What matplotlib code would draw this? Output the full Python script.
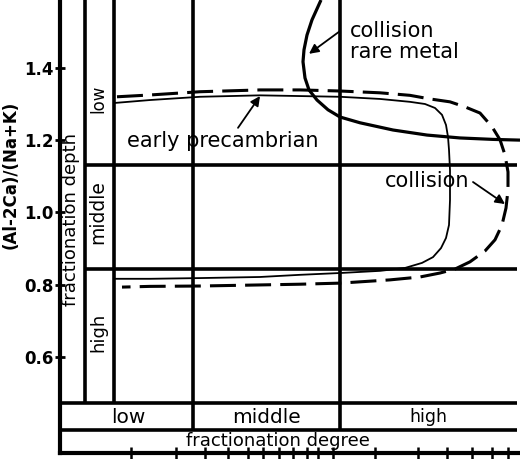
import matplotlib
matplotlib.use('Agg')
import matplotlib.pyplot as plt

plt.rcParams['font.family'] = ['DejaVu Sans']

# ---- axis ticks ----
y_ticks = [0.6, 0.8, 1.0, 1.2, 1.4]
y_tick_labels = ['0.6', '0.8', '1.0', '1.2', '1.4']
x_ticks = [71.5, 116.5, 145.5, 168.5, 188.5, 203.5, 219.5, 233.5, 247.5, 258.5,
           273.5, 315.5, 358.5, 387.5, 412.5, 432.5, 448.5]

# ---- field boundaries ----
depth_band_x = [25.0, 54.5]        # fractionation-depth band (left)
degree_div_x = [133.5, 280.5]      # low | middle | high (fractionation degree)
depth_div_y = [1.131, 0.843]       # low | middle | high (fractionation depth)
band_top_y = 0.471
band_mid_y = 0.397

# ---- curves ----
early_x = [55.5, 90.5, 140.5, 200.5, 240.5, 280.5, 320.5, 350.5, 365.5, 375.5,
           382.5, 386.5, 388.5, 389.5, 390.5, 390.5, 389.5, 386.5, 381.5, 373.5,
           362.5, 345.5, 320.5, 280.5, 240.5, 200.5, 140.5, 90.5, 54.5]
early_y = [1.303, 1.311, 1.320, 1.324, 1.322, 1.320, 1.314, 1.306, 1.300, 1.289,
           1.270, 1.242, 1.209, 1.173, 1.117, 1.034, 0.965, 0.929, 0.901, 0.876,
           0.860, 0.846, 0.838, 0.832, 0.827, 0.821, 0.818, 0.816, 0.816]

coll_x = [57.5, 90.5, 140.5, 200.5, 240.5, 280.5, 320.5, 350.5, 370.5, 390.5,
          405.5, 420.5, 432.5, 440.5, 445.5, 448.5, 448.5, 446.5, 442.5, 435.5,
          425.5, 410.5, 395.5, 380.5, 360.5, 330.5, 280.5, 240.5, 200.5, 140.5,
          90.5, 62.5]
coll_y = [1.320, 1.325, 1.334, 1.339, 1.339, 1.336, 1.331, 1.324, 1.314, 1.306,
          1.292, 1.275, 1.237, 1.201, 1.159, 1.112, 1.062, 1.012, 0.965, 0.924,
          0.893, 0.863, 0.843, 0.832, 0.821, 0.813, 0.804, 0.801, 0.799, 0.796,
          0.795, 0.793]

rare_x = [261.5, 252.5, 247.5, 244.5, 243.5, 245.5, 249.5, 257.5, 268.5, 280.5,
          300.5, 333.5, 367.5, 400.5, 433.5, 460.5]
rare_y = [1.588, 1.533, 1.491, 1.450, 1.417, 1.372, 1.339, 1.311, 1.284, 1.264,
          1.248, 1.228, 1.214, 1.206, 1.202, 1.200]

fig = plt.figure(figsize=(5.2, 4.59), dpi=100)
ax = fig.add_axes([59.5 / 520, 6.5 / 459, 460.5 / 520, 452.5 / 459])
ax.set_xlim(0, 460.5)
ax.set_ylim(0.335, 1.588)

for s in ['top', 'right']:
    ax.spines[s].set_visible(False)
ax.spines['left'].set_linewidth(3)
ax.spines['bottom'].set_linewidth(3)

ax.set_yticks(y_ticks)
ax.set_yticklabels(y_tick_labels, fontweight='bold')
ax.tick_params(axis='y', direction='inout', length=7, width=2, labelsize=12, pad=1)
ax.set_xticks(x_ticks)
ax.tick_params(axis='x', direction='inout', length=8, width=1.8, labelbottom=False)
ax.set_ylabel('(Al-2Ca)/(Na+K)', fontsize=12, fontweight='bold')
ax.yaxis.set_label_coords(-0.0858, 0.614)

lw_grid = 2.6
top = 1.588
for x in depth_band_x:
    ax.vlines(x, band_top_y, top, color='k', lw=lw_grid)
for x in degree_div_x:
    ax.vlines(x, band_mid_y, top, color='k', lw=lw_grid)
for y in depth_div_y:
    ax.hlines(y, depth_band_x[0], 457.5, color='k', lw=lw_grid)
ax.hlines([band_top_y, band_mid_y], 0, 457.5, color='k', lw=lw_grid)

# curves
ax.plot(early_x, early_y, color='k', lw=1.3, solid_joinstyle='round')
ax.plot(coll_x, coll_y, color='k', lw=2.2, linestyle=(0, (8.5, 3)))
ax.plot(rare_x, rare_y, color='k', lw=2.3, solid_joinstyle='round', solid_capstyle='butt')

# labels in the bands
ax.text(11.5, 0.979, 'fractionation depth', rotation=90, ha='center', va='center', fontsize=13)
ax.text(38.5, 1.314, 'low', rotation=90, ha='center', va='center', fontsize=12)
ax.text(38.5, 1.001, 'middle', rotation=90, ha='center', va='center', fontsize=13.5)
ax.text(38.5, 0.669, 'high', rotation=90, ha='center', va='center', fontsize=13)

ax.text(68.5, 0.433, 'low', ha='center', va='center', fontsize=14.5)
ax.text(207.5, 0.433, 'middle', ha='center', va='center', fontsize=14.5)
ax.text(368.5, 0.433, 'high', ha='center', va='center', fontsize=12.5)
ax.text(218.5, 0.367, 'fractionation degree', ha='center', va='center', fontsize=13)

# annotations
arrow = dict(arrowstyle='-|>', color='k', lw=1.3, mutation_scale=14, shrinkA=0, shrinkB=0)
ax.text(67.5, 1.198, 'early precambrian', ha='left', va='center', fontsize=15)
ax.annotate('', xy=(200.5, 1.322), xytext=(178.5, 1.234), arrowprops=arrow)

ax.text(290.5, 1.502, 'collision', ha='left', va='center', fontsize=15)
ax.text(290.5, 1.444, 'rare metal', ha='left', va='center', fontsize=15)
ax.annotate('', xy=(249.5, 1.439), xytext=(280.5, 1.502), arrowprops=arrow)

ax.text(325.5, 1.087, 'collision', ha='left', va='center', fontsize=15)
ax.annotate('', xy=(445.5, 1.023), xytext=(413.5, 1.084), arrowprops=arrow)

fig.savefig('out.png', dpi=100)
